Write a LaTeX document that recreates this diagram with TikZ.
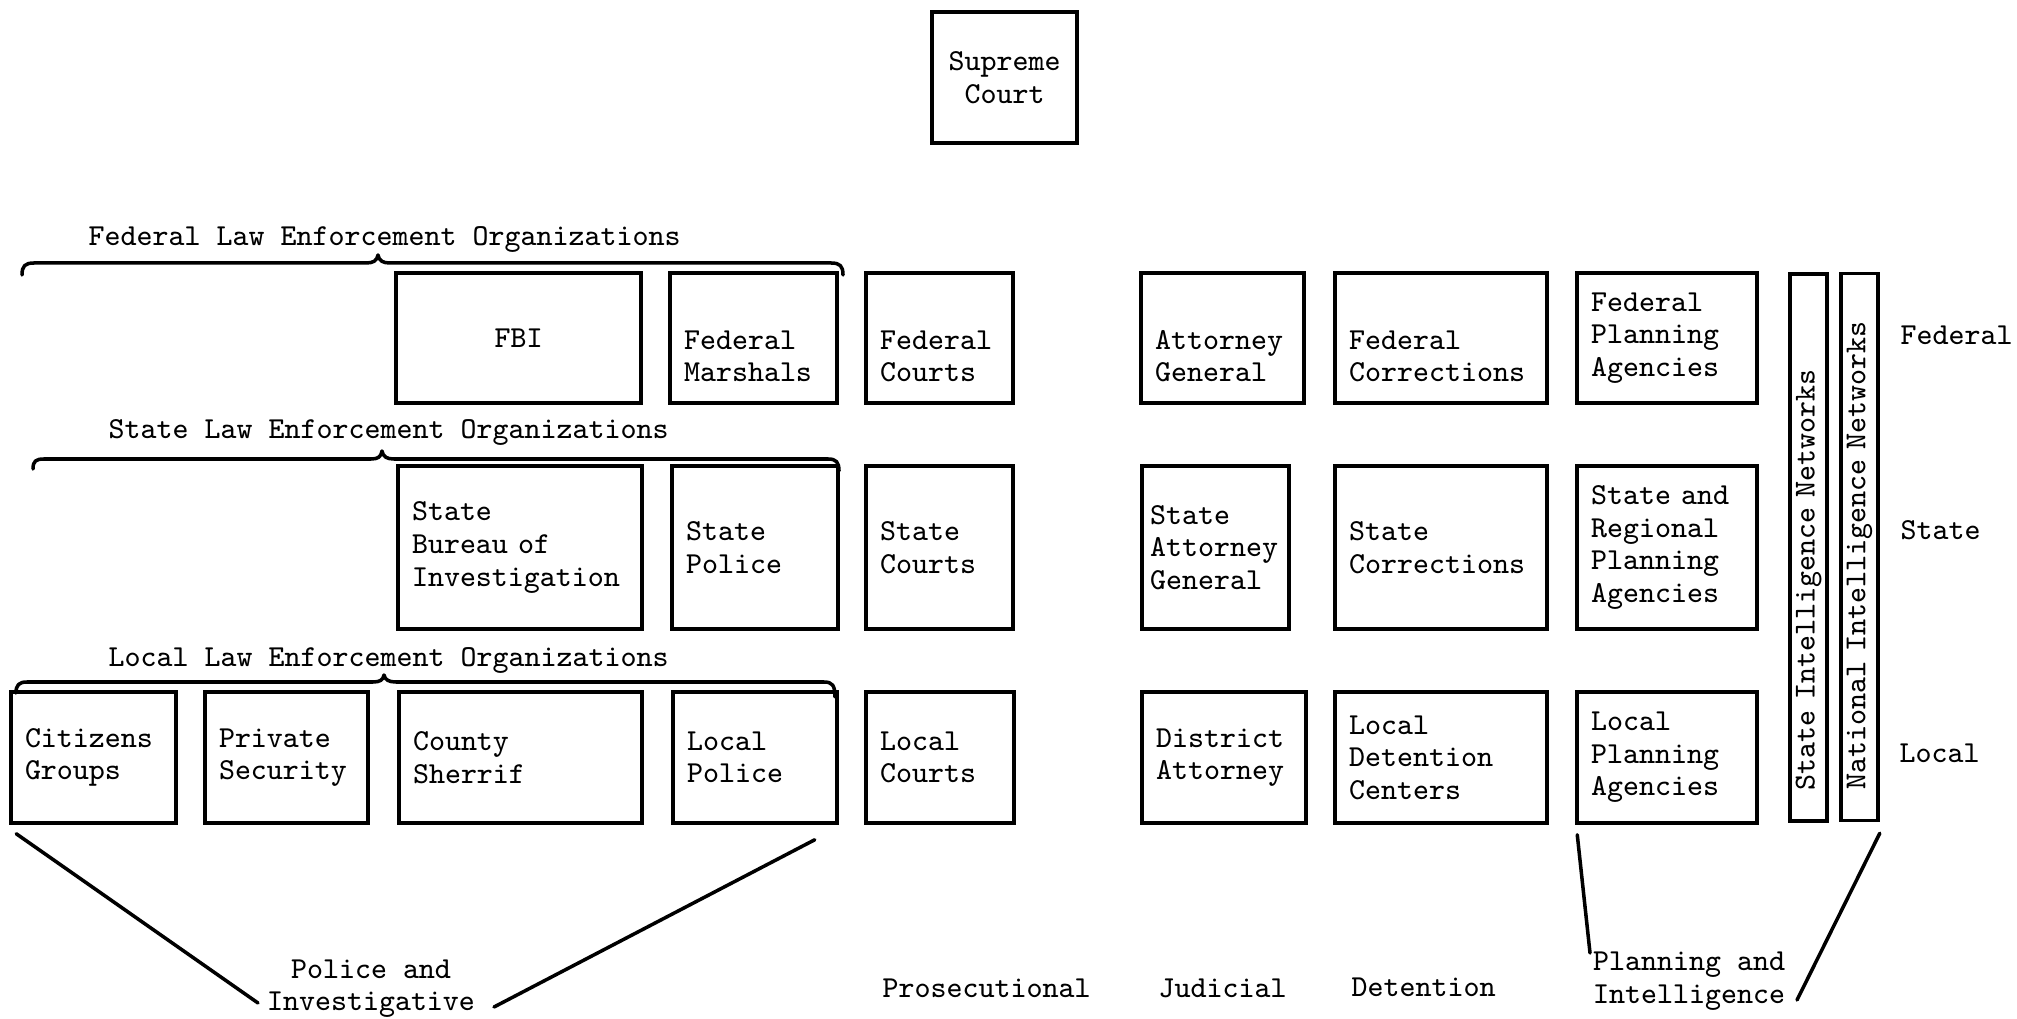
\documentclass[tikz,border=0pt]{standalone}
\newcommand\orgfont{\ttfamily\fontsize{8.67pt}{9.25pt}\selectfont}
\begin{document}
\begin{tikzpicture}[x=0.1mm, y=-0.1mm,
  box/.style={draw, line width=1pt, rectangle, inner xsep=1.4mm, inner ysep=0pt,
              align=left, font=\orgfont},
  fedrow/.style={minimum height=13mm},
  staterow/.style={minimum height=16.3mm},
  localrow/.style={minimum height=13.1mm},
  txt/.style={inner sep=0pt, font=\orgfont, anchor=west},
  bar/.style={draw, line width=1pt, rotate=90, minimum height=3.7mm, inner xsep=3.1mm,
              inner ysep=0pt, text width=48.5mm, align=left, font=\orgfont},
  brace/.style={line width=1pt, line cap=round, line join=round},
  guide/.style={line width=1pt, line cap=round}
]
\useasboundingbox[fill=white] (0,0) rectangle (2017,1019);

% apex of the hierarchy
\node[box, align=center, text width=11.7mm, minimum height=13.1mm] (sc) at (1004.5,77.5) {Supreme\\Court};

% ---- federal level ----
\node[txt] (fedlaw) at (88,240) {Federal Law Enforcement Organizations};
\draw[brace] (22,275) .. controls (22,266) and (25,263) .. (34,263) -- (366,263)
  .. controls (373,263) and (377,261) .. (378,255)
  .. controls (379,261) and (383,263) .. (390,263) -- (831,263)
  .. controls (840,263) and (843,266) .. (843,275);

% two-line entries sit on the lower two of three typed lines
\node[box, fedrow, align=center, text width=21.7mm] (fbi) at (518.5,338) {FBI};
\node[box, fedrow, text width=13.9mm] (fmar) at (753.5,338) {\strut\\Federal\\Marshals};
\node[box, fedrow, text width=11.9mm] (fcourt) at (939.5,338) {\strut\\Federal\\Courts};
\node[box, fedrow, text width=13.5mm] (fag) at (1222.5,338) {\strut\\Attorney\\General};
\node[box, fedrow, text width=18.4mm] (fcorr) at (1441,338) {\strut\\Federal\\Corrections};
\node[box, fedrow, text width=15.2mm] (fplan) at (1667,338) {Federal\\Planning\\Agencies};

% ---- state level ----
\node[txt] (statelaw) at (108,433) {State Law Enforcement Organizations};
\draw[brace] (33,469) .. controls (33,461) and (36,459) .. (44,459) -- (371,459)
  .. controls (378,459) and (381,457) .. (382,451)
  .. controls (383,457) and (387,459) .. (394,459) -- (828,459)
  .. controls (836,459) and (839,462) .. (839,471);

\node[box, staterow, text width=21.6mm] (sbi) at (520,547.5) {State\\Bureau of\\Investigation};
\node[box, staterow, text width=13.8mm] (spol) at (755,547.5) {State\\Police};
\node[box, staterow, text width=11.9mm] (scourt) at (939.5,547.5) {State\\Courts};
\node[box, staterow, inner xsep=0.8mm, text width=13.1mm] (sag) at (1215.5,547.5) {State\\Attorney\\General};
\node[box, staterow, text width=18.4mm] (scorr) at (1441,547.5) {State\\Corrections};
\node[box, staterow, text width=15.2mm] (splan) at (1667,547.5) {State and\\Regional\\Planning\\Agencies};

% ---- local level ----
\node[txt] (locallaw) at (108,660) {Local Law Enforcement Organizations};
\draw[brace] (16,693) .. controls (16,685) and (19,682) .. (27,682) -- (373,682)
  .. controls (380,682) and (383,680) .. (384,675)
  .. controls (385,680) and (389,682) .. (396,682) -- (824,682)
  .. controls (832,682) and (835,685) .. (835,697);

\node[box, localrow, text width=13.7mm] (cit) at (93.5,757.5) {Citizens\\Groups};
\node[box, localrow, text width=13.5mm] (priv) at (286.5,757.5) {Private\\Security};
\node[box, localrow, text width=21.5mm] (county) at (520.5,757.5) {County\\Sherrif};
\node[box, localrow, text width=13.6mm] (lpol) at (755,757.5) {Local\\Police};
\node[box, localrow, text width=12.0mm] (lcourt) at (940,757.5) {Local\\Courts};
\node[box, localrow, text width=13.6mm] (da) at (1224,757.5) {District\\Attorney};
\node[box, localrow, text width=18.4mm] (ldet) at (1441,757.5) {Local\\Detention\\Centers};
\node[box, localrow, text width=15.2mm] (lplan) at (1667,757.5) {Local\\Planning\\Agencies};

% ---- intelligence networks spanning all levels ----
\node[bar] (sint) at (1808.5,547.5) {State Intelligence Networks};
\node[bar] (nint) at (1859.5,547) {National Intelligence Networks};

% level names
\node[txt] (lvfed) at (1900,335) {Federal};
\node[txt] (lvstate) at (1900,530) {State};
\node[txt] (lvlocal) at (1899,753) {Local};

% ---- functional groupings ----
\node[txt, align=center, anchor=center] (polinv) at (371,988.5) {Police and\\Investigative};
\node[txt] (prosec) at (882,988) {Prosecutional};
\node[txt] (judic) at (1158,988) {Judicial};
\node[txt] (deten) at (1351,987) {Detention};
\node[txt, align=left, anchor=center] (planint) at (1689,981) {Planning and\\Intelligence};

\coordinate (polinv-l) at (258,1003);
\coordinate (polinv-r) at (494,1007);
\coordinate (planint-l) at (1590,953);
\coordinate (planint-r) at (1797,1000);

\draw[guide] ([shift={(7,9)}]cit.south west) -- (polinv-l);
\draw[guide] ([shift={(-24,15)}]lpol.south east) -- (polinv-r);
\draw[guide] ([shift={(2,10)}]lplan.south west) -- (planint-l);
\draw[guide] ([shift={(0,11)}]nint.south west) -- (planint-r);
\end{tikzpicture}
\end{document}
